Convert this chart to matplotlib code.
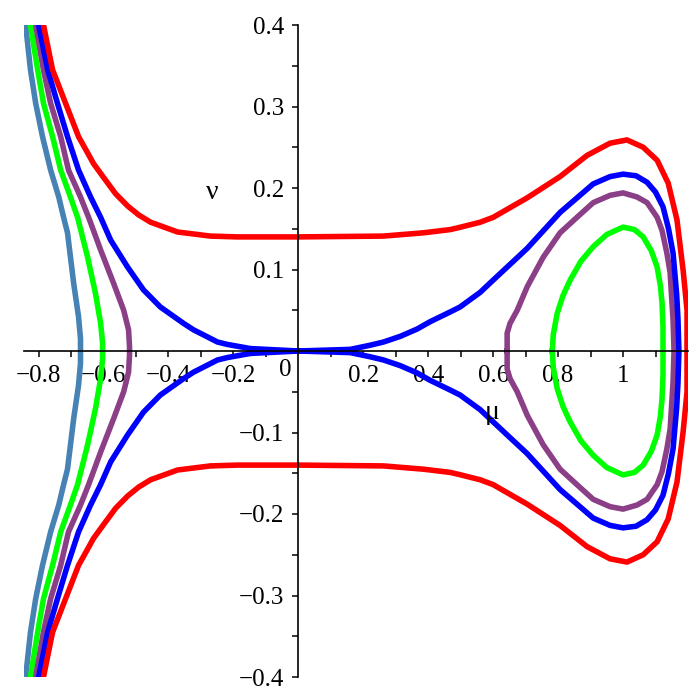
import numpy as np
from matplotlib import pyplot as plt

plt.rcParams['font.family'] = ['Liberation Serif', 'DejaVu Serif']

# upper halves of each level curve (mu, nu); the lower halves are the mirror image
steel_mu = [-0.84, -0.825, -0.809, -0.788, -0.763, -0.738, -0.723, -0.711, -0.692,
            -0.677, -0.671, -0.671]
steel_nu = [0.4, 0.345, 0.304, 0.263, 0.222, 0.189, 0.164, 0.145, 0.083,
            0.042, 0.015, 0.0]

green_left_mu = [-0.825, -0.803, -0.785, -0.757, -0.732, -0.702, -0.68, -0.649, -0.625,
                 -0.609, -0.603, -0.603]
green_left_nu = [0.4, 0.345, 0.304, 0.263, 0.222, 0.189, 0.164, 0.115, 0.071,
                 0.034, 0.01, 0.0]
green_loop_mu = [0.782, 0.785, 0.797, 0.815, 0.837, 0.87, 0.908, 0.95, 1.0, 1.035,
                 1.062, 1.087, 1.105, 1.115, 1.12, 1.123, 1.123]
green_loop_nu = [0.0, 0.02, 0.046, 0.068, 0.087, 0.11, 0.128, 0.143, 0.152, 0.149,
                 0.14, 0.123, 0.103, 0.08, 0.059, 0.03, 0.0]

purple_left_mu = [-0.809, -0.785, -0.763, -0.732, -0.708, -0.671, -0.646, -0.609, -0.569,
                  -0.538, -0.523, -0.52, -0.52]
purple_left_nu = [0.4, 0.345, 0.304, 0.263, 0.222, 0.189, 0.164, 0.124, 0.083,
                  0.05, 0.026, 0.005, 0.0]
purple_loop_mu = [0.643, 0.643, 0.652, 0.674, 0.705, 0.754, 0.806, 0.858, 0.908, 0.96,
                  1.0, 1.043, 1.074, 1.105, 1.12, 1.135, 1.145, 1.154, 1.157]
purple_loop_nu = [0.0, 0.022, 0.034, 0.05, 0.079, 0.115, 0.145, 0.164, 0.182, 0.191,
                  0.194, 0.189, 0.182, 0.164, 0.148, 0.12, 0.096, 0.038, 0.0]

blue_mu = [-0.8, -0.772, -0.742, -0.711, -0.677, -0.64, -0.609, -0.578, -0.526, -0.477,
           -0.425, -0.354, -0.323, -0.249, -0.218, -0.148, 0.0, 0.16, 0.22, 0.262, 0.314,
           0.366, 0.406, 0.468, 0.498, 0.56, 0.6, 0.705, 0.806, 0.908, 0.96, 1.0, 1.04,
           1.074, 1.1, 1.123, 1.14, 1.154, 1.165, 1.169, 1.172]
blue_nu = [0.4, 0.345, 0.304, 0.263, 0.222, 0.189, 0.164, 0.136, 0.103, 0.075,
           0.054, 0.034, 0.026, 0.011, 0.008, 0.003, 0.0, 0.002, 0.007, 0.011, 0.018,
           0.027, 0.036, 0.048, 0.054, 0.072, 0.087, 0.126, 0.17, 0.205, 0.214, 0.217, 0.215,
           0.207, 0.195, 0.177, 0.15, 0.12, 0.07, 0.04, 0.0]

red_mu = [-0.785, -0.757, -0.717, -0.677, -0.649, -0.631, -0.6, -0.563, -0.526, -0.492,
          -0.455, -0.372, -0.271, -0.188, 0.0, 0.262, 0.385, 0.468, 0.5, 0.56, 0.6, 0.705,
          0.806, 0.889, 0.96, 1.012, 1.062, 1.105, 1.139, 1.166, 1.185, 1.197, 1.197]
red_nu = [0.4, 0.345, 0.304, 0.263, 0.243, 0.23, 0.213, 0.193, 0.178, 0.167,
          0.158, 0.146, 0.141, 0.14, 0.14, 0.141, 0.145, 0.149, 0.152, 0.158, 0.164, 0.188,
          0.214, 0.24, 0.255, 0.259, 0.25, 0.234, 0.206, 0.161, 0.099, 0.05, 0.0]


def mirror(mu, nu):
    mu = np.array(mu)
    nu = np.array(nu)
    return np.concatenate([mu, mu[::-1]]), np.concatenate([nu, -nu[::-1]])


fig = plt.figure(figsize=(7, 7), dpi=100)
ax = fig.add_axes([24/700, 23/700, 664/700, 652/700])

lw = 4
curves = [
    (steel_mu, steel_nu, '#4682B4'),
    (green_left_mu, green_left_nu, '#00FF00'),
    (green_loop_mu, green_loop_nu, '#00FF00'),
    (purple_left_mu, purple_left_nu, '#8B3F86'),
    (purple_loop_mu, purple_loop_nu, '#8B3F86'),
    (blue_mu, blue_nu, '#0000FF'),
    (red_mu, red_nu, '#FF0000'),
]
for mu, nu, c in curves:
    x, y = mirror(mu, nu)
    ax.plot(x, y, color=c, lw=lw, solid_joinstyle='round')

ax.set_xlim(-0.845, 1.2)
ax.set_ylim(-0.4, 0.4)

ax.spines['left'].set_position(('data', 0))
ax.spines['bottom'].set_position(('data', 0))
ax.spines['top'].set_visible(False)
ax.spines['right'].set_visible(False)
ax.spines['left'].set_linewidth(1.2)
ax.spines['bottom'].set_linewidth(1.2)

xmaj = [-0.8, -0.6, -0.4, -0.2, 0.2, 0.4, 0.6, 0.8, 1.0]
xlab = ['\u22120.8', '\u22120.6', '\u22120.4', '\u22120.2', '0.2', '0.4', '0.6', '0.8', '1']
ax.set_xticks(xmaj)
ax.set_xticklabels(xlab)
ax.set_xticks([-0.7, -0.5, -0.3, -0.1, 0.1, 0.3, 0.5, 0.7, 0.9, 1.1], minor=True)

ymaj = [-0.4, -0.3, -0.2, -0.1, 0.1, 0.2, 0.3, 0.4]
ylab = ['\u22120.4', '\u22120.3', '\u22120.2', '\u22120.1', '0.1', '0.2', '0.3', '0.4']
ax.set_yticks(ymaj)
ax.set_yticklabels(ylab)
ax.set_yticks([-0.35, -0.25, -0.15, -0.05, 0.05, 0.15, 0.25, 0.35], minor=True)

ax.tick_params(axis='both', which='both', direction='out', length=4, width=1.1,
               labelsize=18)
ax.tick_params(axis='x', pad=6)
ax.tick_params(axis='y', pad=6)

ax.text(-0.04, -0.01, '0', fontsize=18, ha='center', va='top')
ax.text(-0.265, 0.195, '\u03bd', fontsize=20, ha='center', va='center')
ax.text(0.597, -0.076, '\u03bc', fontsize=20, ha='center', va='center')

plt.savefig('out.png')
